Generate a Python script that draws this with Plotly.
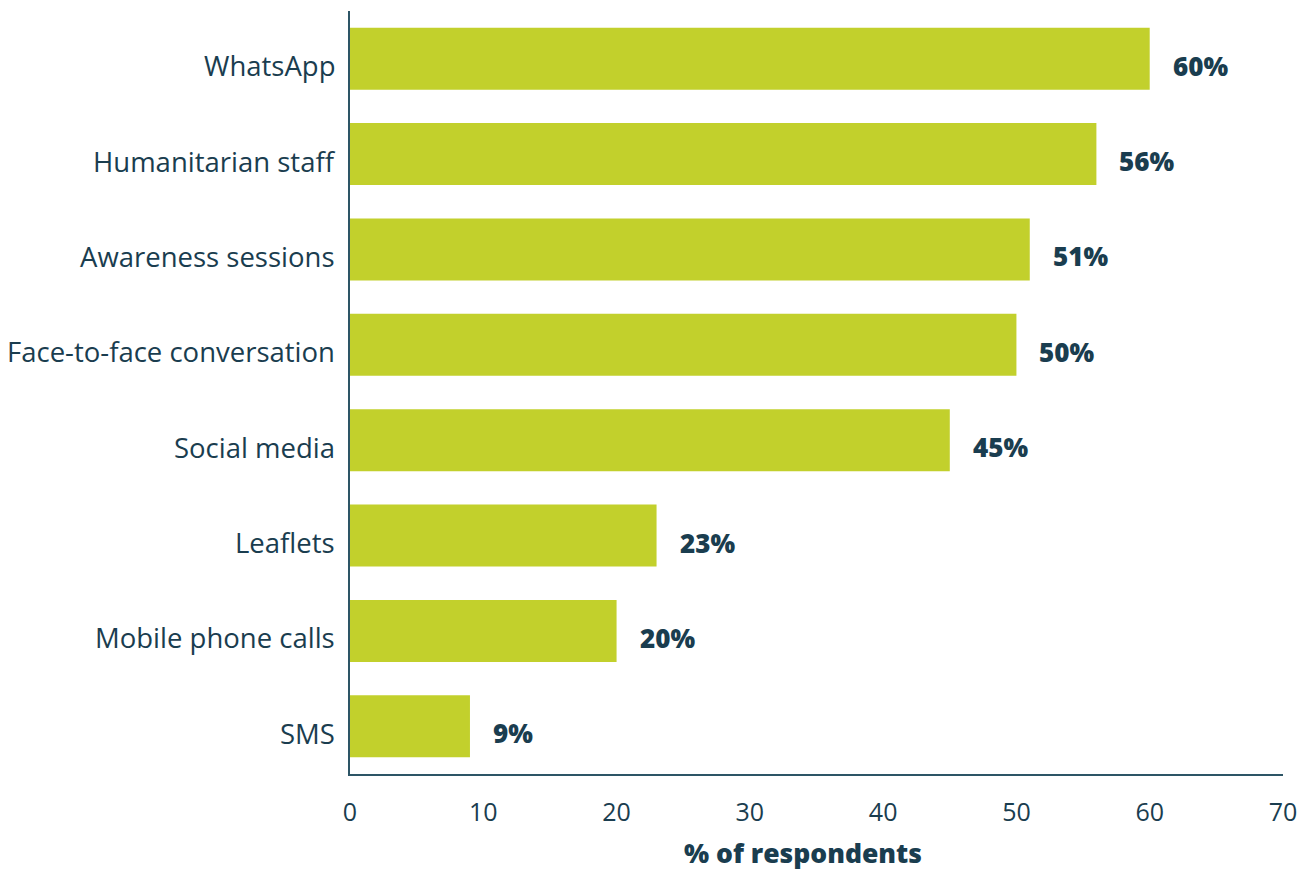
import plotly.graph_objects as go

categories = ["WhatsApp", "Humanitarian staff", "Awareness sessions", "Face-to-face conversation",
              "Social media", "Leaflets", "Mobile phone calls", "SMS"]
values = [60, 56, 51, 50, 45, 23, 20, 9]
x_ticks = [0, 10, 20, 30, 40, 50, 60, 70]
x_title = "% of respondents"

TEXT = "#1a3d4f"
BAR = "#c2d02c"
FONT = "Open Sans"

fig = go.Figure()
fig.add_trace(go.Bar(
    x=values, y=categories, orientation="h",
    marker=dict(color=BAR, line=dict(width=0)),
    width=0.65, hoverinfo="x+y",
))

for c, v in zip(categories, values):
    # value label
    fig.add_annotation(x=v, y=c, text=f"{v}%", showarrow=False,
                       xanchor="left", xshift=21, yshift=-7,
                       font=dict(family=FONT, size=26, color=TEXT, weight=800))
    # category label
    fig.add_annotation(x=0, xref="paper", y=c, text=c, showarrow=False,
                       xanchor="right", xshift=-13, yshift=-7,
                       font=dict(family=FONT, size=27.5, color=TEXT))

fig.add_annotation(x=0.5, xref="paper", y=0, yref="paper", yanchor="top",
                   yshift=-60, xshift=-14, text=x_title, showarrow=False,
                   borderpad=0,
                   font=dict(family=FONT, size=26.5, color=TEXT, weight=800))

fig.update_layout(
    width=1311, height=874,
    margin=dict(l=350, r=28, t=11, b=100, autoexpand=False),
    paper_bgcolor="white", plot_bgcolor="white",
    showlegend=False,
    font=dict(family=FONT, color=TEXT, size=24),
    xaxis=dict(range=[0, 70], tickvals=x_ticks, showgrid=False, zeroline=False,
               showline=True, linecolor="#2d5566", linewidth=1.5,
               ticks="", ticklabelstandoff=15, automargin=False,
               tickfont=dict(family=FONT, size=25, color=TEXT)),
    yaxis=dict(categoryorder="array", categoryarray=categories,
               autorange=False, range=[7.5, -0.5], showgrid=False, zeroline=False,
               showline=True, linecolor="#2d5566", linewidth=1.5,
               ticks="", showticklabels=False, automargin=False),
)

fig.write_html("out.html")
